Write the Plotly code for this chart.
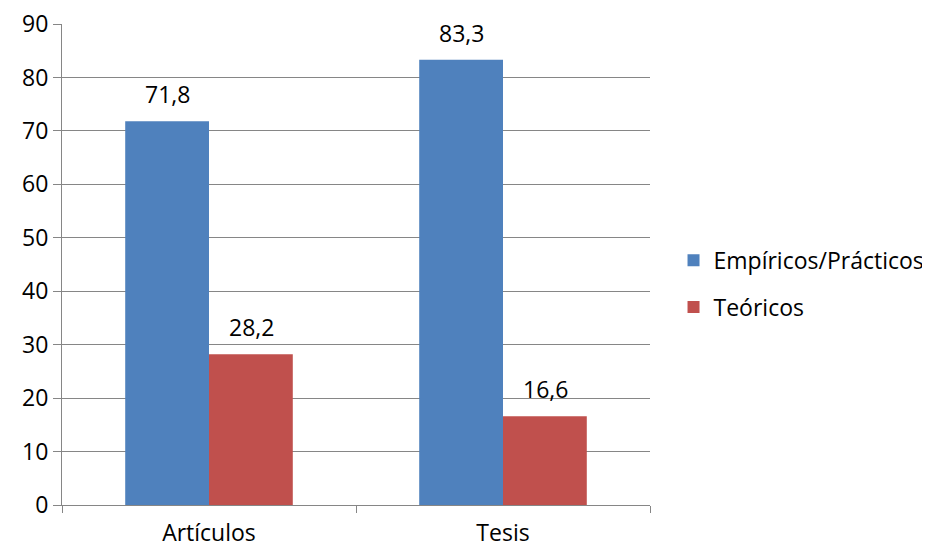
import plotly.graph_objects as go

categories = ["Artículos", "Tesis"]
empiricos = [71.8, 83.3]
teoricos = [28.2, 16.6]
series_names = ["Empíricos/Prácticos", "Teóricos"]
colors = ["#4F81BD", "#C0504D"]

FONT = "Open Sans"
FS = 23

fig = go.Figure()
for i, (name, vals) in enumerate(zip(series_names, [empiricos, teoricos])):
    fig.add_trace(go.Bar(
        x=categories, y=vals, name=name, marker_color=colors[i],
        marker_line_width=0, legendgroup=name,
    ))
    for c, v in zip(categories, vals):
        fig.add_annotation(
            x=c, y=v, text=f"{v:.1f}".replace(".", ","), showarrow=False,
            xshift=-42 if i == 0 else 42, yanchor="bottom", yshift=9,
            font=dict(family=FONT, size=FS, color="#000000"),
        )

fig.update_layout(
    width=930, height=547,
    margin=dict(l=54, r=288, t=16, b=50, autoexpand=False),
    paper_bgcolor="white", plot_bgcolor="white",
    barmode="group", bargap=0.43, bargroupgap=0,
    separators=", ",
    font=dict(family=FONT, size=FS, color="#000000"),
    legend=dict(x=1.04, y=0.46, xanchor="left", yanchor="middle",
                font=dict(family=FONT, size=FS), tracegroupgap=14,
                itemwidth=30),
    showlegend=True,
)
fig.update_xaxes(
    showline=True, linecolor="#868686", linewidth=1,
    ticks="outside", tickson="boundaries", ticklen=7, tickcolor="#868686",
    showgrid=False, tickfont=dict(family=FONT, size=FS),
    ticklabelstandoff=7, automargin=False, ticklabeloverflow="allow",
)
fig.update_yaxes(
    range=[0, 90], dtick=10, showgrid=True, gridcolor="#868686", gridwidth=1,
    showline=True, linecolor="#868686", linewidth=1,
    ticks="outside", ticklen=8, tickcolor="#868686",
    tickfont=dict(family=FONT, size=FS), zeroline=False, automargin=False,
    ticklabeloverflow="allow",
)

fig.write_html("out.html")
